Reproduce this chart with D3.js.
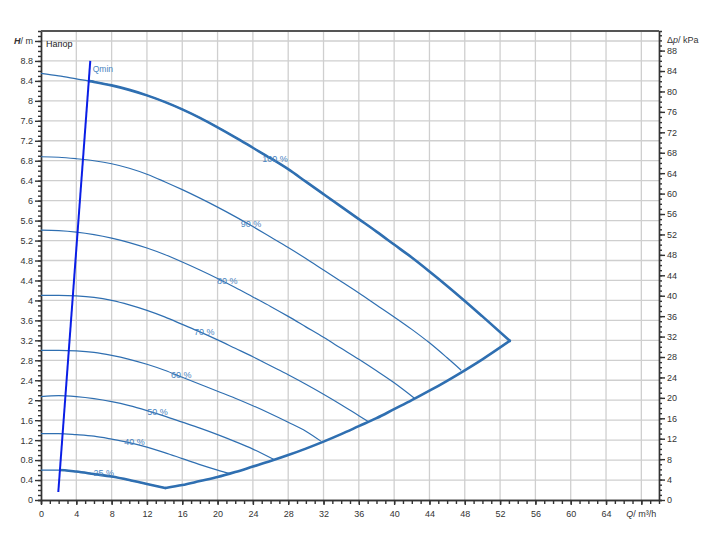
<!DOCTYPE html>
<meta charset="utf-8">
<title>Pump curves</title>
<style>
    body { margin: 0; background: #fff; }
    svg { font-family: "Liberation Sans", Arial, sans-serif; }
    .axis text { font-size: 9px; fill: #333; }
    .axis path, .axis line { stroke: #333; stroke-width: 1.4; }
    .grid line { stroke: #cfcfcf; stroke-width: 1.3; }
    .curve { fill: none; stroke: #2f6fb1; stroke-width: 1.2; }
    .envelope { fill: none; stroke: #2f6fb1; stroke-width: 2.6; stroke-linecap: round; }
    .curveLabel { font-size: 9px; fill: #4a84c0; text-anchor: middle; }
</style>

<body>
    <script src="https://d3js.org/d3.v7.min.js" charset="utf-8"></script>
    <script>
        // Q in m3/h, H in m
        var curve100 = [[0, 8.55], [2, 8.50], [4, 8.44], [6, 8.38], [8, 8.31], [10, 8.22], [12, 8.11], [14, 7.98],
            [16, 7.83], [18, 7.66], [20, 7.47], [22, 7.27], [24, 7.06], [26, 6.85], [28, 6.63], [30, 6.38],
            [32, 6.13], [34, 5.88], [36, 5.63], [38, 5.38], [40, 5.12], [42, 4.86], [44, 4.58], [46, 4.29],
            [48, 3.99], [50, 3.68], [53.1, 3.19]];
        var curve90 = [[0, 6.88], [2, 6.87], [4, 6.84], [6, 6.80], [8, 6.74], [10, 6.65], [12, 6.53], [14, 6.38],
            [16, 6.22], [18, 6.05], [20, 5.87], [22, 5.68], [24, 5.48], [26, 5.27], [28, 5.06], [30, 4.84],
            [32, 4.61], [34, 4.38], [36, 4.15], [38, 3.91], [40, 3.67], [42, 3.42], [44, 3.15], [46, 2.85],
            [47.6, 2.60]];
        var curve80 = [[0, 5.41], [2, 5.40], [4, 5.37], [6, 5.32], [8, 5.25], [10, 5.16], [12, 5.05], [14, 4.92],
            [16, 4.77], [18, 4.61], [20, 4.44], [22, 4.26], [24, 4.07], [26, 3.88], [28, 3.68], [30, 3.47],
            [32, 3.26], [34, 3.04], [36, 2.82], [38, 2.59], [40, 2.35], [42.3, 2.04]];
        var curve70 = [[0, 4.10], [2, 4.10], [4, 4.09], [6, 4.06], [8, 4.00], [10, 3.91], [12, 3.80], [14, 3.67],
            [16, 3.52], [18, 3.37], [20, 3.21], [22, 3.04], [24, 2.87], [26, 2.69], [28, 2.51], [30, 2.32],
            [32, 2.12], [34, 1.91], [36, 1.69], [37.1, 1.57]];
        var curve60 = [[0, 3.00], [2, 3.00], [4, 2.99], [6, 2.96], [8, 2.90], [10, 2.82], [12, 2.72], [14, 2.60],
            [16, 2.46], [18, 2.32], [20, 2.18], [22, 2.04], [24, 1.89], [26, 1.73], [28, 1.56], [30, 1.38],
            [31.7, 1.18]];
        var curve50 = [[0, 2.07], [2, 2.09], [4, 2.07], [6, 2.03], [8, 1.97], [10, 1.89], [12, 1.79], [14, 1.68],
            [16, 1.56], [18, 1.44], [20, 1.31], [22, 1.17], [24, 1.02], [26.4, 0.81]];
        var curve40 = [[0, 1.33], [2, 1.33], [4, 1.31], [6, 1.28], [8, 1.22], [10, 1.15], [12, 1.06], [14, 0.95],
            [16, 0.83], [18, 0.71], [20, 0.60], [21.4, 0.53]];
        var curve25 = [[0, 0.60], [2, 0.60], [4, 0.57], [6, 0.52], [8, 0.47], [10, 0.40], [12, 0.32], [14.1, 0.24]];
        var systemMax = [[14.1, 0.24], [16, 0.30], [18, 0.38], [20, 0.46], [22, 0.56], [24, 0.67], [26, 0.78],
            [28, 0.90], [30, 1.03], [32, 1.17], [34, 1.32], [36, 1.48], [38, 1.64], [40, 1.82], [42, 2.00],
            [44, 2.19], [46, 2.39], [48, 2.60], [50, 2.82], [53.1, 3.19]];
        var qminLine = [[1.96, 0.16], [5.58, 8.8]];

        var curves = [curve100, curve90, curve80, curve70, curve60, curve50, curve40, curve25];
        var speedLabels = ["100 %", "90 %", "80 %", "70 %", "60 %", "50 %", "40 %", "25 %"];
        var labelQ = [26.5, 23.8, 21.1, 18.5, 15.9, 13.2, 10.6, 7.1];

        var qTicks = [0, 4, 8, 12, 16, 20, 24, 28, 32, 36, 40, 44, 48, 52, 56, 60, 64];
        var hTicks = [0, 0.4, 0.8, 1.2, 1.6, 2, 2.4, 2.8, 3.2, 3.6, 4, 4.4, 4.8, 5.2, 5.6, 6, 6.4, 6.8, 7.2,
            7.6, 8, 8.4, 8.8];
        var kpaTicks = [0, 4, 8, 12, 16, 20, 24, 28, 32, 36, 40, 44, 48, 52, 56, 60, 64, 68, 72, 76, 80, 84, 88];
        var kpaPerM = 9.77;

        // -----------------------

        var width = 717,
            height = 552;
        var margin = { top: 31, right: 58, bottom: 52, left: 41 };
        var x0 = margin.left, x1 = width - margin.right,
            y0 = height - margin.bottom, y1 = margin.top;

        var x = d3.scaleLinear().domain([0, 70]).range([x0, x1]);
        var y = d3.scaleLinear().domain([0, 9.4]).range([y0, y1]);
        var yk = d3.scaleLinear().domain([0, 9.4 * kpaPerM]).range([y0, y1]);

        var svg = d3.select("body").append("svg")
            .attr("width", width)
            .attr("height", height);

        // grid
        var grid = svg.append("g").attr("class", "grid");
        grid.selectAll(".vg")
            .data(qTicks.slice(1).concat([68]))
            .enter().append("line")
            .attr("x1", d => x(d)).attr("x2", d => x(d))
            .attr("y1", y0).attr("y2", y1);
        grid.selectAll(".hg")
            .data(hTicks.slice(1).concat([9.2]))
            .enter().append("line")
            .attr("x1", x0).attr("x2", x1)
            .attr("y1", d => y(d)).attr("y2", d => y(d));

        // minor ticks
        svg.append("g").attr("class", "axis")
            .attr("transform", "translate(" + x0 + ",0)")
            .call(d3.axisLeft(y).tickValues(d3.range(0, 94).map(d => d / 10)).tickSize(3).tickFormat(""));
        svg.append("g").attr("class", "axis")
            .attr("transform", "translate(0," + y0 + ")")
            .call(d3.axisBottom(x).tickValues(d3.range(0, 70)).tickSize(4).tickFormat(""));
        svg.append("g").attr("class", "axis")
            .attr("transform", "translate(" + x1 + ",0)")
            .call(d3.axisRight(yk).tickValues(d3.range(0, 92)).tickSize(3).tickFormat(""));

        // major ticks
        svg.append("g").attr("class", "axis")
            .attr("transform", "translate(" + x0 + ",0)")
            .call(d3.axisLeft(y).tickValues(hTicks.concat([9.2])).tickSizeInner(6).tickSizeOuter(0).tickPadding(2)
                .tickFormat(d => d > 9 ? "" : String(+d.toFixed(1))));
        svg.append("g").attr("class", "axis")
            .attr("transform", "translate(0," + y0 + ")")
            .call(d3.axisBottom(x).tickValues(qTicks.concat([68])).tickSizeInner(5).tickSizeOuter(0).tickPadding(6)
                .tickFormat(d => d > 66 ? "" : d));
        svg.append("g").attr("class", "axis")
            .attr("transform", "translate(" + x1 + ",0)")
            .call(d3.axisRight(yk).tickValues(kpaTicks).tickSizeInner(6).tickSizeOuter(0).tickPadding(2));

        // top frame
        svg.append("line")
            .attr("x1", x0).attr("x2", x1).attr("y1", y1).attr("y2", y1)
            .style("stroke", "#555").style("stroke-width", 2);

        // axis titles
        var hTitle = svg.append("text")
            .attr("x", x0 - 8).attr("y", y(9.2)).attr("dy", "0.32em")
            .attr("text-anchor", "end").style("font-size", "9px").style("fill", "#333");
        hTitle.append("tspan").text("H").style("font-style", "italic").style("font-weight", "bold");
        hTitle.append("tspan").text("/ m");

        var qTitle = svg.append("text")
            .attr("x", x(68)).attr("y", y0 + 11).attr("dy", "0.71em")
            .attr("text-anchor", "middle").style("font-size", "9px").style("fill", "#333");
        qTitle.append("tspan").text("Q").style("font-style", "italic");
        qTitle.append("tspan").text("/ m³/h");

        var pTitle = svg.append("text")
            .attr("x", x1 + 8).attr("y", 40).attr("dy", "0.32em")
            .style("font-size", "9px").style("fill", "#333");
        pTitle.append("tspan").text("Δ");
        pTitle.append("tspan").text("p").style("font-style", "italic");
        pTitle.append("tspan").text("/ kPa");

        svg.append("text")
            .attr("x", x0 + 5).attr("y", 47)
            .style("font-size", "9px").style("fill", "#222")
            .text("Напор");

        // curves
        var line = d3.line()
            .x(d => x(d[0]))
            .y(d => y(d[1]))
            .curve(d3.curveMonotoneX);

        svg.selectAll(".curve")
            .data(curves)
            .enter().append("path")
            .attr("class", "curve")
            .attr("d", line);

        // envelope, right of the Qmin line
        function qAt(h) {
            var a = qminLine[0], b = qminLine[1];
            return a[0] + (h - a[1]) * (b[0] - a[0]) / (b[1] - a[1]);
        }
        svg.append("clipPath").attr("id", "rightOfQmin")
            .append("polygon")
            .attr("points", [[x(qAt(9.4)), y1], [x1, y1], [x1, y0], [x(qAt(0)), y0]].join(" "));

        var env = svg.append("g").attr("clip-path", "url(#rightOfQmin)");
        env.selectAll(".envelope")
            .data([curve100, systemMax, curve25])
            .enter().append("path")
            .attr("class", "envelope")
            .attr("d", line);

        // Qmin
        svg.append("path")
            .attr("d", d3.line().x(d => x(d[0])).y(d => y(d[1]))(qminLine))
            .style("stroke", "#0a1ee6").style("stroke-width", 2).style("fill", "none");
        svg.append("text")
            .attr("x", x(qminLine[1][0]) + 2.5).attr("y", y(qminLine[1][1]) + 11)
            .style("font-size", "8.5px").style("fill", "#4a84c0")
            .text("Qmin");

        // speed labels
        function hAt(curve, q) {
            for (var i = 1; i < curve.length; i++) {
                if (curve[i][0] >= q) {
                    var a = curve[i - 1], b = curve[i];
                    return a[1] + (q - a[0]) * (b[1] - a[1]) / (b[0] - a[0]);
                }
            }
            return curve[curve.length - 1][1];
        }
        svg.selectAll(".curveLabel")
            .data(speedLabels)
            .enter().append("text")
            .attr("class", "curveLabel")
            .attr("x", (d, i) => x(labelQ[i]))
            .attr("y", (d, i) => y(hAt(curves[i], labelQ[i])) + 1)
            .text(d => d);
    </script>
</body>
